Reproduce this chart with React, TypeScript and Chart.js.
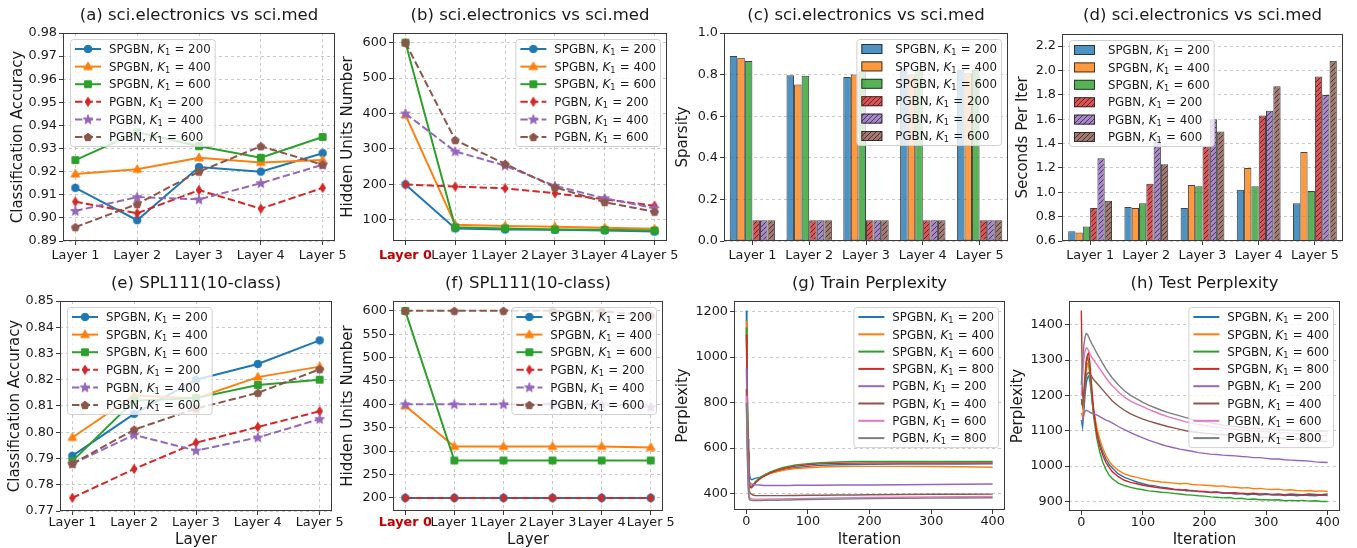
import React, { useEffect, useRef } from 'react';
import { Chart, registerables } from 'chart.js';

Chart.register(...registerables);

const FONT = "'DejaVu Sans', sans-serif";
const TXT = '#1a1a1a';
const GRID = 'rgba(165,165,165,0.6)';
const SPINE = '#3a3a3a';
const TICK_FS = 12.8;
const LEG_FS = 11.8;

// ======================= DATA =======================
const layers5 = ['Layer 1', 'Layer 2', 'Layer 3', 'Layer 4', 'Layer 5'];
const layers6 = ['Layer 0', 'Layer 1', 'Layer 2', 'Layer 3', 'Layer 4', 'Layer 5'];

const labels6 = [
  'SPGBN, K₁ = 200', 'SPGBN, K₁ = 400', 'SPGBN, K₁ = 600',
  'PGBN, K₁ = 200', 'PGBN, K₁ = 400', 'PGBN, K₁ = 600',
];
const labels8 = [
  'SPGBN, K₁ = 200', 'SPGBN, K₁ = 400', 'SPGBN, K₁ = 600', 'SPGBN, K₁ = 800',
  'PGBN, K₁ = 200', 'PGBN, K₁ = 400', 'PGBN, K₁ = 600', 'PGBN, K₁ = 800',
];

// (a) classification accuracy, sci.electronics vs sci.med
const accA_spgbn200 = [0.913, 0.899, 0.922, 0.920, 0.928];
const accA_spgbn400 = [0.919, 0.921, 0.926, 0.924, 0.925];
const accA_spgbn600 = [0.925, 0.937, 0.931, 0.926, 0.935];
const accA_pgbn200 = [0.907, 0.902, 0.912, 0.904, 0.913];
const accA_pgbn400 = [0.903, 0.909, 0.908, 0.915, 0.923];
const accA_pgbn600 = [0.896, 0.906, 0.920, 0.931, 0.923];
const ticksA = [0.89, 0.90, 0.91, 0.92, 0.93, 0.94, 0.95, 0.96, 0.97, 0.98];

// (b) hidden units, sci.electronics vs sci.med
const unitsB_spgbn200 = [200, 76, 73, 72, 70, 67];
const unitsB_spgbn400 = [396, 86, 83, 81, 78, 75];
const unitsB_spgbn600 = [600, 79, 76, 73, 72, 70];
const unitsB_pgbn200 = [200, 194, 189, 175, 158, 140];
const unitsB_pgbn400 = [400, 293, 253, 196, 161, 133];
const unitsB_pgbn600 = [600, 325, 258, 192, 150, 123];
const ticksB = [100, 200, 300, 400, 500, 600];

// (c) sparsity
const spC_spgbn200 = [0.89, 0.797, 0.788, 0.832, 0.825];
const spC_spgbn400 = [0.881, 0.753, 0.80, 0.80, 0.807];
const spC_spgbn600 = [0.865, 0.795, 0.815, 0.823, 0.822];
const spC_pgbn200 = [0.1, 0.1, 0.1, 0.1, 0.1];
const spC_pgbn400 = [0.1, 0.1, 0.1, 0.1, 0.1];
const spC_pgbn600 = [0.1, 0.1, 0.1, 0.1, 0.1];
const ticksC = [0.0, 0.2, 0.4, 0.6, 0.8, 1.0];

// (d) seconds per iteration
const secD_spgbn200 = [0.68, 0.88, 0.87, 1.02, 0.91];
const secD_spgbn400 = [0.67, 0.87, 1.06, 1.20, 1.33];
const secD_spgbn600 = [0.72, 0.91, 1.05, 1.05, 1.01];
const secD_pgbn200 = [0.87, 1.07, 1.38, 1.63, 1.95];
const secD_pgbn400 = [1.28, 1.44, 1.60, 1.67, 1.80];
const secD_pgbn600 = [0.93, 1.23, 1.50, 1.87, 2.08];
const ticksD = [0.6, 0.8, 1.0, 1.2, 1.4, 1.6, 1.8, 2.0, 2.2];

// (e) classification accuracy, SPL111
const accE_spgbn200 = [0.791, 0.807, 0.820, 0.826, 0.835];
const accE_spgbn400 = [0.798, 0.814, 0.813, 0.821, 0.825];
const accE_spgbn600 = [0.789, 0.812, 0.813, 0.818, 0.820];
const accE_pgbn200 = [0.775, 0.786, 0.796, 0.802, 0.808];
const accE_pgbn400 = [0.788, 0.799, 0.793, 0.798, 0.805];
const accE_pgbn600 = [0.788, 0.801, 0.809, 0.815, 0.824];
const ticksE = [0.77, 0.78, 0.79, 0.80, 0.81, 0.82, 0.83, 0.84, 0.85];

// (f) hidden units, SPL111
const unitsF_spgbn200 = [200, 200, 200, 200, 200, 200];
const unitsF_spgbn400 = [397, 310, 310, 310, 310, 308];
const unitsF_spgbn600 = [600, 280, 280, 280, 280, 280];
const unitsF_pgbn200 = [200, 200, 200, 200, 200, 200];
const unitsF_pgbn400 = [400, 400, 400, 400, 400, 394];
const unitsF_pgbn600 = [600, 600, 600, 600, 599, 590];
const ticksF = [200, 250, 300, 350, 400, 450, 500, 550, 600];

// (g) train perplexity
const trainIters = [0, 1, 2, 3, 4, 5, 6, 8, 10, 12, 15, 20, 25, 30, 40, 50, 60, 70, 80, 100, 120, 150, 175, 200, 250, 300, 350, 400];
const trainS200 = [1205, 1000, 800, 640, 540, 490, 470, 462, 462, 465, 468, 470, 474, 480, 490, 498, 505, 510, 514, 520, 524, 527, 528, 529, 530, 530, 530, 531];
const trainS400 = [1160, 950, 760, 600, 500, 450, 435, 432, 436, 442, 452, 463, 472, 480, 490, 497, 503, 507, 510, 514, 517, 519, 520, 520, 520, 519, 518, 516];
const trainS600 = [1130, 930, 740, 590, 490, 445, 432, 430, 435, 442, 453, 465, 476, 484, 497, 507, 515, 521, 526, 532, 536, 539, 541, 542, 542, 542, 541, 541];
const trainS800 = [1100, 900, 720, 580, 480, 440, 428, 425, 430, 437, 448, 460, 470, 478, 492, 502, 510, 516, 521, 527, 531, 533, 534, 535, 535, 535, 535, 535];
const trainP200 = [950, 800, 650, 540, 480, 455, 447, 443, 441, 440, 439, 438, 437, 436, 436, 436, 436, 436, 437, 437, 437, 438, 438, 438, 439, 440, 441, 442];
const trainP400 = [860, 720, 580, 480, 430, 412, 404, 398, 395, 393, 392, 391, 391, 391, 391, 391, 391, 392, 392, 393, 393, 394, 394, 395, 396, 397, 397, 398];
const trainP600 = [830, 690, 550, 450, 400, 385, 380, 378, 377, 376, 376, 376, 376, 376, 377, 377, 377, 378, 378, 379, 380, 381, 382, 383, 384, 385, 386, 388];
const trainP800 = [800, 660, 520, 430, 385, 375, 372, 371, 370, 370, 370, 370, 370, 371, 371, 371, 372, 372, 373, 374, 375, 376, 377, 378, 379, 380, 381, 382];
const ticksGx = [0, 100, 200, 300, 400];
const ticksGy = [400, 600, 800, 1000, 1200];

// (h) test perplexity
const testIters = [0, 2, 4, 6, 8, 10, 12, 14, 16, 18, 20, 25, 30, 35, 40, 45, 50, 60, 70, 80, 90,
  100, 110, 120, 130, 140, 150, 160, 170, 180, 190, 200, 210, 220, 230, 240, 250, 260, 270, 280, 290, 300,
  310, 320, 330, 340, 350, 360, 370, 380, 390, 400];
const testS200 = [1130, 1110, 1150, 1200, 1235, 1250, 1255, 1240, 1210, 1175, 1150, 1100, 1065, 1040, 1020, 1005, 995, 978, 968, 962, 955,
  950, 946, 944, 940, 938, 935, 934, 930, 931, 928, 927, 925, 926, 923, 924, 921, 922, 919, 921, 918, 920, 918, 919, 917, 918, 916, 918, 917, 916, 918, 917];
const testS400 = [1150, 1140, 1180, 1230, 1270, 1290, 1285, 1260, 1225, 1190, 1160, 1110, 1075, 1050, 1030, 1015, 1003, 988, 978, 972, 968,
  964, 960, 957, 955, 954, 952, 950, 951, 948, 947, 946, 945, 943, 944, 941, 940, 938, 939, 936, 937, 935, 934, 935, 932, 933, 931, 930, 931, 929, 930, 928];
const testS600 = [1180, 1170, 1210, 1260, 1300, 1310, 1295, 1260, 1220, 1180, 1140, 1080, 1040, 1010, 990, 975, 965, 952, 945, 940, 936,
  933, 930, 928, 926, 925, 923, 921, 919, 918, 916, 915, 913, 912, 910, 911, 908, 909, 906, 907, 905, 905, 904, 905, 902, 903, 902, 903, 901, 902, 900, 900];
const testS800 = [1440, 1200, 1190, 1240, 1290, 1315, 1320, 1290, 1245, 1200, 1160, 1095, 1055, 1030, 1010, 997, 985, 970, 960, 954, 950,
  946, 943, 940, 938, 936, 934, 932, 933, 930, 929, 928, 926, 927, 925, 924, 925, 923, 922, 923, 921, 922, 920, 921, 919, 921, 920, 919, 921, 920, 919, 921];
const testP200 = [1120, 1130, 1145, 1155, 1158, 1156, 1155, 1152, 1150, 1150, 1148, 1145, 1140, 1135, 1130, 1127, 1122, 1112, 1103, 1095, 1087,
  1080, 1073, 1067, 1061, 1056, 1052, 1048, 1045, 1042, 1038, 1036, 1034, 1033, 1031, 1030, 1029, 1027, 1026, 1024, 1024, 1022, 1020, 1020, 1018, 1017, 1016, 1015, 1014, 1012, 1011, 1010];
const testP400 = [1190, 1170, 1200, 1230, 1255, 1262, 1265, 1260, 1255, 1250, 1245, 1235, 1225, 1215, 1205, 1195, 1185, 1170, 1158, 1148, 1140,
  1133, 1127, 1122, 1117, 1112, 1108, 1104, 1100, 1097, 1095, 1093, 1092, 1090, 1089, 1088, 1087, 1085, 1084, 1083, 1082, 1081, 1080, 1079, 1078, 1077, 1076, 1075, 1074, 1073, 1070, 1070];
const testP600 = [1200, 1250, 1300, 1325, 1335, 1333, 1325, 1318, 1310, 1305, 1300, 1288, 1275, 1262, 1250, 1238, 1228, 1210, 1195, 1184, 1175,
  1168, 1160, 1153, 1146, 1140, 1135, 1130, 1125, 1121, 1118, 1115, 1112, 1110, 1108, 1106, 1104, 1102, 1100, 1099, 1098, 1097, 1096, 1095, 1094, 1093, 1092, 1090, 1089, 1088, 1087, 1085];
const testP800 = [1230, 1290, 1340, 1365, 1375, 1373, 1365, 1357, 1350, 1343, 1337, 1320, 1305, 1290, 1275, 1262, 1250, 1230, 1213, 1200, 1190,
  1180, 1172, 1165, 1158, 1152, 1147, 1142, 1137, 1132, 1128, 1125, 1122, 1119, 1116, 1114, 1112, 1110, 1108, 1107, 1106, 1105, 1104, 1103, 1102, 1101, 1100, 1101, 1100, 1099, 1100, 1098];
const ticksHx = [0, 100, 200, 300, 400];
const ticksHy = [900, 1000, 1100, 1200, 1300, 1400];

// ======================= STYLES =======================
const C = {
  blue: '#1f77b4', orange: '#ff7f0e', green: '#2ca02c', red: '#d62728',
  purple: '#9467bd', brown: '#8c564b', pink: '#e377c2', gray: '#7f7f7f',
};
const lineStyles6 = [
  { color: C.blue, marker: 'circle', dash: [] as number[] },
  { color: C.orange, marker: 'triangle', dash: [] as number[] },
  { color: C.green, marker: 'square', dash: [] as number[] },
  { color: C.red, marker: 'thinDiamond', dash: [7.4, 3.2] },
  { color: C.purple, marker: 'star', dash: [7.4, 3.2] },
  { color: C.brown, marker: 'pentagon', dash: [7.4, 3.2] },
];
const barFills = [
  'rgba(31,119,180,0.8)', 'rgba(255,127,14,0.8)', 'rgba(44,160,44,0.8)',
  'rgba(214,39,40,0.8)', 'rgba(148,103,189,0.8)', 'rgba(140,86,75,0.8)',
];
const colors8 = [C.blue, C.orange, C.green, C.red, C.purple, C.brown, C.pink, C.gray];

// ======================= HELPERS =======================
const markerCache = new Map<string, HTMLCanvasElement>();
function marker(shape: string, color: string): HTMLCanvasElement {
  const key = shape + color;
  const hit = markerCache.get(key);
  if (hit) return hit;
  const S = 14;
  const c = document.createElement('canvas');
  c.width = S; c.height = S;
  const g = c.getContext('2d')!;
  const m = S / 2;
  g.fillStyle = color; g.strokeStyle = color; g.lineWidth = 1;
  g.beginPath();
  if (shape === 'circle') g.arc(m, m, 3.8, 0, Math.PI * 2);
  else if (shape === 'triangle') { g.moveTo(m, m - 4.6); g.lineTo(m + 4.3, m + 3); g.lineTo(m - 4.3, m + 3); g.closePath(); }
  else if (shape === 'square') g.rect(m - 3.4, m - 3.4, 6.8, 6.8);
  else if (shape === 'thinDiamond') { g.moveTo(m, m - 4.6); g.lineTo(m + 2.8, m); g.lineTo(m, m + 4.6); g.lineTo(m - 2.8, m); g.closePath(); }
  else if (shape === 'star') {
    for (let i = 0; i < 10; i++) {
      const r = i % 2 === 0 ? 5.0 : 2.1;
      const a = -Math.PI / 2 + (i * Math.PI) / 5;
      const x = m + r * Math.cos(a), y = m + 0.3 + r * Math.sin(a);
      if (i === 0) g.moveTo(x, y); else g.lineTo(x, y);
    }
    g.closePath();
  } else if (shape === 'pentagon') {
    for (let i = 0; i < 5; i++) {
      const a = -Math.PI / 2 + (i * 2 * Math.PI) / 5;
      const x = m + 4.1 * Math.cos(a), y = m + 0.4 + 4.1 * Math.sin(a);
      if (i === 0) g.moveTo(x, y); else g.lineTo(x, y);
    }
    g.closePath();
  }
  g.fill(); g.stroke();
  markerCache.set(key, c);
  return c;
}

function hatch(fill: string): CanvasPattern | string {
  const T = 5;
  const c = document.createElement('canvas');
  c.width = T; c.height = T;
  const g = c.getContext('2d')!;
  g.fillStyle = fill; g.fillRect(0, 0, T, T);
  g.strokeStyle = 'rgba(30,30,30,0.8)'; g.lineWidth = 0.9;
  for (const o of [-T, 0, T]) { g.beginPath(); g.moveTo(o, T); g.lineTo(o + T, 0); g.stroke(); }
  return g.createPattern(c, 'repeat') || fill;
}

function splitLabel(label: string) {
  const i = label.indexOf('K₁');
  if (i < 0) return null;
  return { pre: label.slice(0, i), post: label.slice(i + 2) };
}
function labelWidth(ctx: CanvasRenderingContext2D, label: string, fs: number) {
  const p = splitLabel(label);
  ctx.font = `${fs}px ${FONT}`;
  if (!p) return ctx.measureText(label).width;
  let w = ctx.measureText(p.pre).width + ctx.measureText(p.post).width;
  ctx.font = `italic ${fs}px ${FONT}`; w += ctx.measureText('K').width;
  ctx.font = `${fs * 0.7}px ${FONT}`; w += ctx.measureText('1').width + fs * 0.05;
  return w;
}
function drawLabel(ctx: CanvasRenderingContext2D, label: string, x: number, yc: number, fs: number) {
  ctx.fillStyle = TXT; ctx.textAlign = 'left'; ctx.textBaseline = 'alphabetic';
  const yb = yc + fs * 0.36;
  const p = splitLabel(label);
  ctx.font = `${fs}px ${FONT}`;
  if (!p) { ctx.fillText(label, x, yb); return; }
  let cx = x;
  ctx.fillText(p.pre, cx, yb); cx += ctx.measureText(p.pre).width;
  ctx.font = `italic ${fs}px ${FONT}`; ctx.fillText('K', cx, yb); cx += ctx.measureText('K').width;
  ctx.font = `${fs * 0.7}px ${FONT}`; ctx.fillText('1', cx, yb + fs * 0.16); cx += ctx.measureText('1').width + fs * 0.05;
  ctx.font = `${fs}px ${FONT}`; ctx.fillText(p.post, cx, yb);
}

const framePlugin = {
  id: 'frame',
  afterDatasetsDraw(chart: any) {
    const { ctx, chartArea: a } = chart;
    ctx.save();
    ctx.strokeStyle = SPINE; ctx.lineWidth = 1;
    ctx.strokeRect(Math.round(a.left) + 0.5, Math.round(a.top) + 0.5, Math.round(a.right - a.left) - 1, Math.round(a.bottom - a.top) - 1);
    ctx.restore();
  },
};

const boxLegendPlugin = {
  id: 'boxLegend',
  afterDraw(chart: any, _args: any, opts: any) {
    if (!opts || !opts.show) return;
    const { ctx, chartArea: a } = chart;
    const fs = LEG_FS;
    const rowH = opts.rowH ?? 17.6;
    const dss = chart.data.datasets;
    ctx.save();
    const tw = Math.max(...dss.map((d: any) => labelWidth(ctx, d.label, fs)));
    const boxW = 4 + 34 + tw + 5;
    const boxH = 10 + (dss.length - 1) * rowH + 9;
    const x0 = opts.loc === 'ul' ? a.left + 7 : a.right - 7 - boxW;
    const y0 = a.top + 6;
    ctx.beginPath();
    ctx.roundRect(x0 + 0.5, y0 + 0.5, boxW, boxH, 3);
    ctx.fillStyle = 'rgba(255,255,255,0.8)'; ctx.fill();
    ctx.strokeStyle = '#d0d0d0'; ctx.lineWidth = 1; ctx.stroke();
    dss.forEach((d: any, i: number) => {
      const yc = y0 + 10 + i * rowH;
      const hx = x0 + 5;
      if (opts.kind === 'bar') {
        ctx.fillStyle = d.backgroundColor;
        ctx.fillRect(hx, yc - 5, 21, 10);
        ctx.strokeStyle = d.borderColor; ctx.lineWidth = 1;
        ctx.strokeRect(hx + 0.5, yc - 4.5, 20, 9);
      } else {
        ctx.strokeStyle = d.borderColor;
        ctx.lineWidth = (d.borderWidth || 2) + (opts.kind === 'plain' ? 0.6 : 0);
        ctx.setLineDash(d.borderDash || []);
        ctx.beginPath(); ctx.moveTo(hx, yc); ctx.lineTo(hx + 26, yc); ctx.stroke();
        ctx.setLineDash([]);
        if (d.pointStyle && typeof d.pointStyle === 'object') {
          const im = d.pointStyle as HTMLCanvasElement;
          ctx.drawImage(im, hx + 13 - im.width / 2, yc - im.height / 2);
        }
      }
      drawLabel(ctx, d.label, hx + 34, yc, fs);
    });
    ctx.restore();
  },
};

type Geo = { L: number; T: number; W: number; H: number; PL: number; PT: number; PR: number; PB: number };

function axisTitle(text: string | undefined, horizontal: boolean, pad: number) {
  if (!text) return { display: false };
  return {
    display: true, text, color: TXT,
    font: { family: FONT, size: 15, lineHeight: horizontal ? 1 : 1.2 },
    padding: horizontal ? { top: 0, bottom: pad } : { top: pad, bottom: 0 },
  };
}

function linAxis(o: {
  min: number; max: number; ticks: number[]; fmt: (v: number) => string; horizontal: boolean; size: number;
  grid: boolean; title?: string; titlePad?: number; tickPad: number; redFirst?: boolean;
}) {
  return {
    type: 'linear', min: o.min, max: o.max,
    afterBuildTicks: (s: any) => { s.ticks = o.ticks.map((v) => ({ value: v })); },
    afterFit: (s: any) => {
      if (o.horizontal) s.height = o.size; else s.width = o.size;
      s.paddingLeft = 0; s.paddingRight = 0; s.paddingTop = 0; s.paddingBottom = 0;
    },
    ticks: {
      autoSkip: false, maxRotation: 0, minRotation: 0, padding: o.tickPad,
      callback: (v: any) => o.fmt(Number(v)),
      color: (c: any) => (o.redFirst && c.index === 0 ? '#c00000' : TXT),
      font: (c: any) => ({ family: FONT, size: TICK_FS, weight: o.redFirst && c.index === 0 ? 'bold' : 'normal' }),
    },
    grid: {
      display: true, drawOnChartArea: o.grid, color: GRID, lineWidth: 1, drawTicks: true,
      tickLength: 4, tickColor: SPINE, tickWidth: 1, borderDash: [3, 3], tickBorderDash: [],
    },
    border: { display: false, dash: [3, 3] },
    title: axisTitle(o.title, o.horizontal, o.titlePad ?? 0),
  };
}

function catAxis(o: { size: number; tickPad: number }) {
  return {
    type: 'category', offset: true,
    afterFit: (s: any) => { s.height = o.size; s.paddingLeft = 0; s.paddingRight = 0; },
    ticks: { autoSkip: false, maxRotation: 0, minRotation: 0, padding: o.tickPad, color: TXT, font: { family: FONT, size: TICK_FS } },
    grid: { display: true, drawOnChartArea: false, offset: false, drawTicks: true, tickLength: 4, tickColor: SPINE, tickWidth: 1, color: GRID },
    border: { display: false },
  };
}

function baseOptions(g: Geo, title: string, row: number, legend: any, scales: any) {
  const titleH = g.PT - g.T;
  const padTop = row === 0 ? 6 : 0;
  return {
    responsive: false, animation: false, devicePixelRatio: 1, events: [],
    layout: { padding: { left: 0, top: 0, right: g.L + g.W - g.PR, bottom: 0 } },
    plugins: {
      legend: { display: false }, tooltip: { enabled: false },
      title: {
        display: true, text: title, fullSize: false, color: TXT,
        font: { family: FONT, size: 16.5, weight: 'normal', lineHeight: 1.2 },
        padding: { top: padTop, bottom: titleH - 19.8 - padTop },
      },
      boxLegend: legend,
    },
    scales,
  };
}

function lineDatasets(labels: string[], series: number[][]) {
  return series.map((vals, i) => {
    const st = lineStyles6[i];
    return {
      label: labels[i], data: vals.map((y, x) => ({ x, y })),
      borderColor: st.color, backgroundColor: st.color, borderWidth: 2, borderDash: st.dash,
      pointStyle: marker(st.marker, st.color), pointRadius: 4, tension: 0, order: -i, clip: false,
    };
  });
}

function perplexityDatasets(labels: string[], iters: number[], series: number[][]) {
  return series.map((vals, i) => ({
    label: labels[i], data: vals.map((y, k) => ({ x: iters[k], y })),
    borderColor: colors8[i], backgroundColor: colors8[i], borderWidth: 1.4,
    pointRadius: 0, tension: 0, order: -i,
  }));
}

function barDatasets(labels: string[], series: number[][], catPct: number) {
  return series.map((vals, i) => ({
    label: labels[i], data: vals,
    backgroundColor: i < 3 ? barFills[i] : hatch(barFills[i]),
    borderColor: 'rgba(35,35,35,0.85)', borderWidth: 1, borderSkipped: false,
    categoryPercentage: catPct, barPercentage: 1.0,
  }));
}

// ------------- panel configs -------------
function layerLinePanel(g: Geo, row: number, title: string, labels: string[], xLabels: string[], series: number[][],
  y: { min: number; max: number; ticks: number[]; fmt: (v: number) => string; title: string; pad: number },
  loc: string, xTitle?: string) {
  const n = xLabels.length;
  const margin = (n - 1) * 0.05;
  return {
    type: 'line',
    data: { datasets: lineDatasets(labels, series) },
    options: baseOptions(g, title, row, { show: true, loc, kind: 'line', rowH: 17.6 }, {
      x: linAxis({
        min: -margin, max: n - 1 + margin, ticks: xLabels.map((_, i) => i), fmt: (v) => xLabels[v] ?? '',
        horizontal: true, size: g.T + g.H - g.PB, grid: true, tickPad: row === 0 ? 2.5 : 0,
        title: xTitle, titlePad: 0, redFirst: n === 6,
      }),
      y: linAxis({
        min: y.min, max: y.max, ticks: y.ticks, fmt: y.fmt, horizontal: false, size: g.PL - g.L,
        grid: true, tickPad: 2, title: y.title, titlePad: y.pad,
      }),
    }),
    plugins: [framePlugin, boxLegendPlugin],
  };
}

function barPanel(g: Geo, title: string, series: number[][], catPct: number,
  y: { min: number; max: number; ticks: number[]; fmt: (v: number) => string; title: string; pad: number }, loc: string) {
  return {
    type: 'bar',
    data: { labels: layers5, datasets: barDatasets(labels6, series, catPct) },
    options: baseOptions(g, title, 0, { show: true, loc, kind: 'bar', rowH: 17.4 }, {
      x: catAxis({ size: g.T + g.H - g.PB, tickPad: 2.5 }),
      y: linAxis({
        min: y.min, max: y.max, ticks: y.ticks, fmt: y.fmt, horizontal: false, size: g.PL - g.L,
        grid: true, tickPad: 2, title: y.title, titlePad: y.pad,
      }),
    }),
    plugins: [framePlugin, boxLegendPlugin],
  };
}

function perplexityPanel(g: Geo, title: string, iters: number[], series: number[][],
  y: { min: number; max: number; ticks: number[] }, xTicks: number[]) {
  return {
    type: 'line',
    data: { datasets: perplexityDatasets(labels8, iters, series) },
    options: baseOptions(g, title, 1, { show: true, loc: 'ur', kind: 'plain', rowH: 17.3 }, {
      x: linAxis({
        min: -20, max: 420, ticks: xTicks, fmt: (v) => String(v), horizontal: true, size: g.T + g.H - g.PB,
        grid: false, tickPad: 0, title: 'Iteration', titlePad: 0,
      }),
      y: linAxis({
        min: y.min, max: y.max, ticks: y.ticks, fmt: (v) => String(v), horizontal: false, size: g.PL - g.L,
        grid: true, tickPad: 2, title: 'Perplexity', titlePad: 1,
      }),
    }),
    plugins: [framePlugin, boxLegendPlugin],
  };
}

const f2 = (v: number) => v.toFixed(2);
const f1 = (v: number) => v.toFixed(1);
const f0 = (v: number) => String(Math.round(v));

const geoA: Geo = { L: 0, T: 0, W: 362, H: 274, PL: 63, PT: 33, PR: 335, PB: 241 };
const geoB: Geo = { L: 338, T: 0, W: 352, H: 274, PL: 393, PT: 33, PR: 667, PB: 241 };
const geoC: Geo = { L: 673, T: 0, W: 357, H: 274, PL: 724, PT: 33, PR: 1008, PB: 241 };
const geoD: Geo = { L: 1008, T: 0, W: 349, H: 274, PL: 1062, PT: 34, PR: 1343, PB: 241 };
const geoE: Geo = { L: 0, T: 274, W: 360, H: 274, PL: 60, PT: 301, PR: 332, PB: 511 };
const geoF: Geo = { L: 338, T: 274, W: 352, H: 274, PL: 393, PT: 301, PR: 663, PB: 511 };
const geoG: Geo = { L: 673, T: 274, W: 357, H: 274, PL: 734, PT: 301, PR: 1005, PB: 510 };
const geoH: Geo = { L: 1008, T: 274, W: 349, H: 274, PL: 1069, PT: 301, PR: 1340, PB: 511 };

const panels: { id: string; g: Geo; make: () => any }[] = [
  { id: 'a', g: geoA, make: () => layerLinePanel(geoA, 0, '(a) sci.electronics vs sci.med', labels6, layers5,
    [accA_spgbn200, accA_spgbn400, accA_spgbn600, accA_pgbn200, accA_pgbn400, accA_pgbn600],
    { min: 0.89, max: 0.98, ticks: ticksA, fmt: f2, title: 'Classification Accuracy', pad: 9 }, 'ul') },
  { id: 'b', g: geoB, make: () => layerLinePanel(geoB, 0, '(b) sci.electronics vs sci.med', labels6, layers6,
    [unitsB_spgbn200, unitsB_spgbn400, unitsB_spgbn600, unitsB_pgbn200, unitsB_pgbn400, unitsB_pgbn600],
    { min: 40.5, max: 627, ticks: ticksB, fmt: f0, title: 'Hidden Units Number', pad: 1 }, 'ur') },
  { id: 'c', g: geoC, make: () => barPanel(geoC, '(c) sci.electronics vs sci.med',
    [spC_spgbn200, spC_spgbn400, spC_spgbn600, spC_pgbn200, spC_pgbn400, spC_pgbn600], 0.8,
    { min: 0, max: 1.0, ticks: ticksC, fmt: f1, title: 'Sparsity', pad: 1 }, 'ur') },
  { id: 'd', g: geoD, make: () => barPanel(geoD, '(d) sci.electronics vs sci.med',
    [secD_spgbn200, secD_spgbn400, secD_spgbn600, secD_pgbn200, secD_pgbn400, secD_pgbn600], 0.78,
    { min: 0.6, max: 2.3, ticks: ticksD, fmt: f1, title: 'Seconds Per Iter', pad: 6 }, 'ul') },
  { id: 'e', g: geoE, make: () => layerLinePanel(geoE, 1, '(e) SPL111(10-class)', labels6, layers5,
    [accE_spgbn200, accE_spgbn400, accE_spgbn600, accE_pgbn200, accE_pgbn400, accE_pgbn600],
    { min: 0.77, max: 0.85, ticks: ticksE, fmt: f2, title: 'Classification Accuracy', pad: 6 }, 'ul', 'Layer') },
  { id: 'f', g: geoF, make: () => layerLinePanel(geoF, 1, '(f) SPL111(10-class)', labels6, layers6,
    [unitsF_spgbn200, unitsF_spgbn400, unitsF_spgbn600, unitsF_pgbn200, unitsF_pgbn400, unitsF_pgbn600],
    { min: 172, max: 621, ticks: ticksF, fmt: f0, title: 'Hidden Units Number', pad: 1 }, 'ur', 'Layer') },
  { id: 'g', g: geoG, make: () => perplexityPanel(geoG, '(g) Train Perplexity', trainIters,
    [trainS200, trainS400, trainS600, trainS800, trainP200, trainP400, trainP600, trainP800],
    { min: 328, max: 1247, ticks: ticksGy }, ticksGx) },
  { id: 'h', g: geoH, make: () => perplexityPanel(geoH, '(h) Test Perplexity', testIters,
    [testS200, testS400, testS600, testS800, testP200, testP400, testP600, testP800],
    { min: 873, max: 1467, ticks: ticksHy }, ticksHx) },
];

function ChartCanvas({ g, make }: { g: Geo; make: () => any }) {
  const ref = useRef<HTMLCanvasElement>(null);
  useEffect(() => {
    const chart = new Chart(ref.current as HTMLCanvasElement, make());
    return () => chart.destroy();
  }, []);
  return (
    <canvas ref={ref} width={g.W} height={g.H}
      style={{ position: 'absolute', left: g.L, top: g.T, width: g.W, height: g.H }} />
  );
}

export default function App() {
  return (
    <div style={{ position: 'fixed', left: 0, top: 0, width: 1357, height: 548, overflow: 'hidden', background: '#fff' }}>
      {panels.map((p) => <ChartCanvas key={p.id} g={p.g} make={p.make} />)}
    </div>
  );
}
